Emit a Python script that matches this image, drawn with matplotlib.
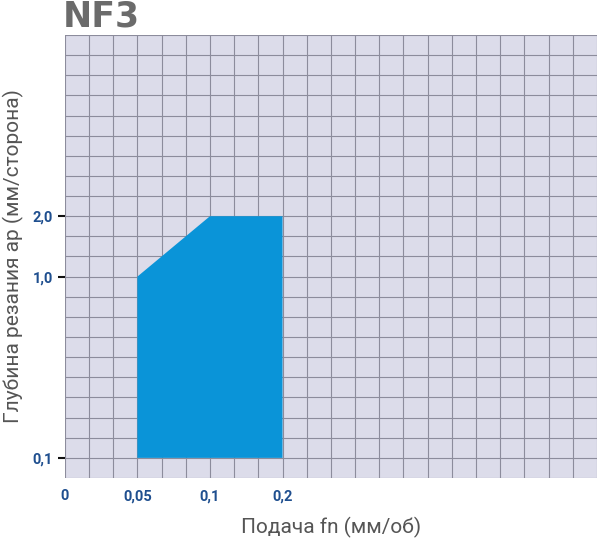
import numpy as np
import matplotlib
matplotlib.use("Agg")
import matplotlib.pyplot as plt

# tick values and their grid positions
x_tick_vals = [0, 0.05, 0.1, 0.2]
x_tick_labels = ["0", "0,05", "0,1", "0,2"]
x_tick_pos = [0, 3, 6, 9]
y_tick_vals = [0.1, 1.0, 2.0]
y_tick_labels = ["0,1", "1,0", "2,0"]
y_tick_pos = [1, 10, 13]

# working region boundary (feed, depth)
region_feed = [0.05, 0.05, 0.1, 0.2, 0.2]
region_depth = [0.1, 1.0, 2.0, 2.0, 0.1]

fig = plt.figure(figsize=(6, 5.38), dpi=100)
ax = fig.add_axes([0.108, 0.1115, 0.887, 0.8235])
ax.set_facecolor("#dcdcea")
ax.set_xlim(0, 22)
ax.set_ylim(0, 22)
for i in range(23):
    ax.axvline(i, color="#8c8c9c", lw=0.8, zorder=1)
    ax.axhline(i, color="#8c8c9c", lw=0.8, zorder=1)

px = np.interp(region_feed, x_tick_vals, x_tick_pos)
py = np.interp(region_depth, y_tick_vals, y_tick_pos)
ax.fill(px, py, color="#0a94d8", zorder=2, lw=0)

for s in ax.spines.values():
    s.set_visible(False)
ax.set_xticks(x_tick_pos)
ax.set_xticklabels(x_tick_labels)
ax.set_yticks(y_tick_pos)
ax.set_yticklabels(y_tick_labels)
ax.tick_params(axis="x", length=0, pad=8, labelcolor="#1f4f8f", labelsize=10.5)
ax.tick_params(axis="y", length=5, width=1.5, color="#111111", labelcolor="#1f4f8f", labelsize=10.5)
for t in ax.get_xticklabels() + ax.get_yticklabels():
    t.set_fontweight("bold")
    t.set_fontfamily("Roboto")
ax.set_xlabel("Подача fn (мм/об)", fontsize=15, color="#555555", labelpad=10, fontfamily="Roboto")
ax.set_ylabel("Глубина резания ap (мм/сторона)", fontsize=15, color="#555555", labelpad=6, fontfamily="Roboto")
fig.text(0.105, 0.97, "NF3", fontsize=25, fontweight="heavy", color="#6b6b6b", va="center", fontfamily="DejaVu Sans")

fig.savefig("out.png", dpi=100, facecolor="white")
